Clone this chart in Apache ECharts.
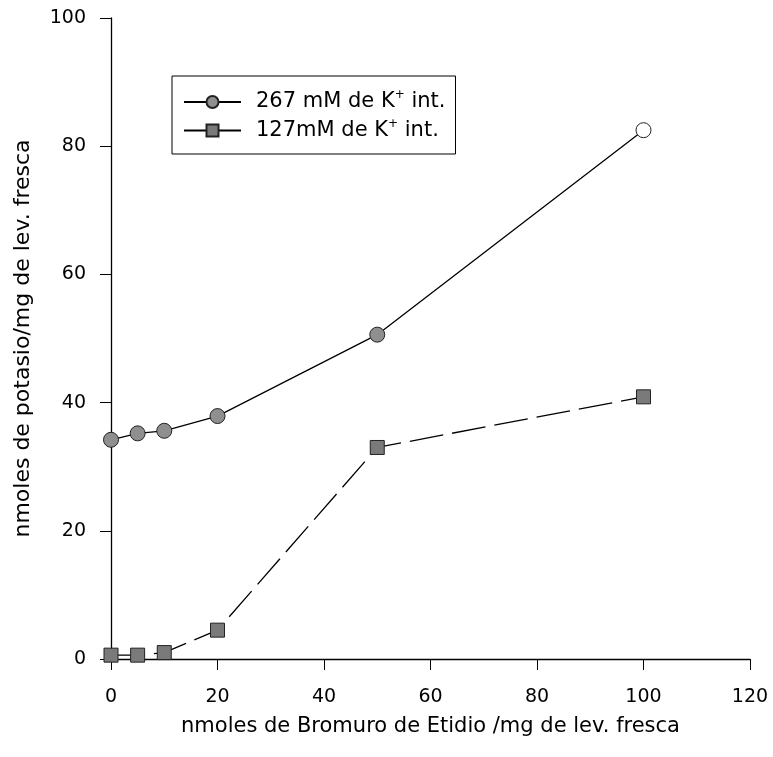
<!DOCTYPE html>
<html>
<head>
<meta charset="utf-8">
<script src="https://cdn.jsdelivr.net/npm/echarts@6/dist/echarts.min.js"></script>
<style>html,body{margin:0;padding:0;background:#fff}#c{width:773px;height:757px}</style>
</head>
<body>
<div id="c"></div>
<script>
const xValues = [0, 5, 10, 20, 50, 100];
const seriesA = [34.2, 35.2, 35.6, 37.9, 50.6, 82.5];
const seriesB = [0.6, 0.6, 1.0, 4.5, 33.0, 40.9];
const xTicks = [0, 20, 40, 60, 80, 100, 120];
const yTicks = [0, 20, 40, 60, 80, 100];
const nameA = '267 mM de K+ int.';
const nameB = '127mM de K+ int.';

const font = 'DejaVu Sans, Liberation Sans, Arial, sans-serif';
const chart = echarts.init(document.getElementById('c'), null, {renderer: 'canvas'});
const dataA = xValues.map((x, i) => {
  const d = {value: [x, seriesA[i]]};
  if (i === xValues.length - 1) d.itemStyle = {color: '#ffffff'};
  return d;
});
const dataB = xValues.map((x, i) => [x, seriesB[i]]);

chart.setOption({
  animation: false,
  backgroundColor: '#fff',
  grid: {left: 111, top: 18, right: 23, bottom: 98, containLabel: false},
  legend: {
    left: 172, top: 76,
    orient: 'vertical',
    itemWidth: 57, itemHeight: 15, itemGap: 5,
    padding: [13, 10, 13, 11],
    borderColor: '#000', borderWidth: 1,
    data: [
      {name: nameA},
      {name: nameB, lineStyle: {type: 'solid'}}
    ],
    formatter: function (n) {
      const base = n.replace(' int.', '').replace('+', '');
      return '{p|}{a|' + base + '}{s|+}{a| int.}';
    },
    textStyle: {
      fontFamily: font, fontSize: 21, color: '#000',
      rich: {
        p: {width: 10},
        a: {fontFamily: font, fontSize: 21, color: '#000', lineHeight: 26},
        s: {fontFamily: font, fontSize: 12, color: '#000', verticalAlign: 'top', padding: [0, 0, 12, 0]}
      }
    }
  },
  xAxis: {
    type: 'value', min: 0, max: 120, interval: 20,
    name: 'nmoles de Bromuro de Etidio /mg de lev. fresca',
    nameLocation: 'middle', nameGap: 57,
    nameTextStyle: {fontFamily: font, fontSize: 21, color: '#000'},
    axisLine: {show: true, lineStyle: {color: '#000', width: 1.3}},
    axisTick: {show: true, length: 11, inside: false, lineStyle: {color: '#000'}},
    axisLabel: {fontFamily: font, fontSize: 19, color: '#000', margin: 29,
      formatter: v => xTicks.includes(v) ? String(v) : ''},
    splitLine: {show: false}
  },
  yAxis: {
    type: 'value', min: 0, max: 100, interval: 20,
    name: 'nmoles de potasio/mg de lev. fresca',
    nameLocation: 'middle', nameGap: 77, nameRotate: 90,
    nameTextStyle: {fontFamily: font, fontSize: 22, color: '#000'},
    axisLine: {show: true, lineStyle: {color: '#000', width: 1.3}},
    axisTick: {show: true, length: 11, inside: false, lineStyle: {color: '#000'}},
    axisLabel: {fontFamily: font, fontSize: 19, color: '#000', margin: 25,
      formatter: v => yTicks.includes(v) ? String(v) : ''},
    splitLine: {show: false}
  },
  series: [
    {
      name: nameA, type: 'line', data: dataA,
      symbol: 'circle', symbolSize: 15,
      lineStyle: {color: '#000', width: 1.3, type: 'solid'},
      itemStyle: {color: '#8f8f8f', borderColor: '#222', borderWidth: 1}
    },
    {
      name: nameB, type: 'line', data: dataB,
      symbol: 'rect', symbolSize: 14,
      lineStyle: {color: '#000', width: 1.3, type: [34, 9]},
      itemStyle: {color: '#7a7a7a', borderColor: '#222', borderWidth: 1}
    }
  ]
});
</script>
</body>
</html>
